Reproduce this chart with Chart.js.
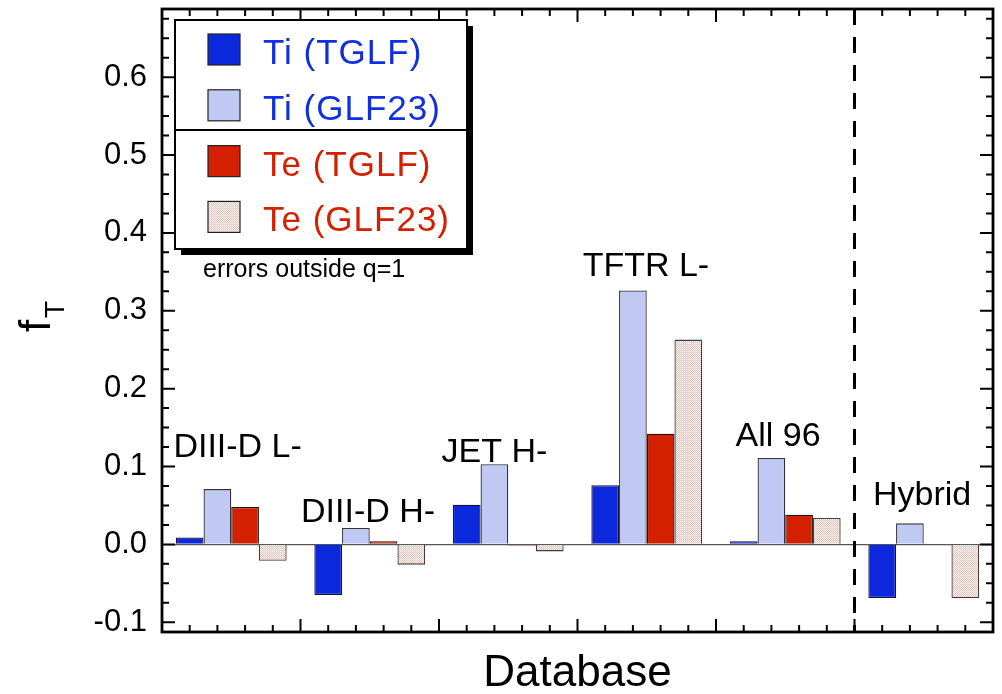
<!DOCTYPE html>
<html>
<head>
<meta charset="utf-8">
<script src="https://cdn.jsdelivr.net/npm/chart.js@4.4.0/dist/chart.umd.min.js"></script>
<style>
  html, body { margin: 0; padding: 0; background: #fff; }
</style>
</head>
<body>
<canvas id="chart" width="1002" height="694" style="width:1002px;height:694px;display:block"></canvas>
<script>
// f_T per database, one array per channel / model
const databases = ['DIII-D L-', 'DIII-D H-', 'JET H-', 'TFTR L-', 'All 96', 'Hybrid'];
const tiTglf  = [0.009, -0.065, 0.051, 0.076, 0.004, -0.069];
const tiGlf23 = [0.071, 0.021, 0.103, 0.326, 0.111, 0.027];
const teTglf  = [0.048, 0.004, -0.0015, 0.142, 0.038, null];
const teGlf23 = [-0.021, -0.026, -0.009, 0.263, 0.034, -0.069];

const yTicks = [-0.1, 0.0, 0.1, 0.2, 0.3, 0.4, 0.5, 0.6];

// database names are written above each group: position in bar widths, height in f_T
const nameAt = [2.73, 7.44, 12.0, 17.47, 22.24, 27.44];
const nameHeight = [0.112, 0.029, 0.106, 0.345, 0.126, 0.051];

const BLUE = '#0c28dc', LIGHT_BLUE = '#c0c8f4', RED = '#d22000';

function stipple() {
  const c = document.createElement('canvas');
  c.width = 2; c.height = 2;
  const g = c.getContext('2d');
  g.fillStyle = '#ffffff';
  g.fillRect(0, 0, 2, 2);
  g.fillStyle = '#f0bcb4';
  g.fillRect(0, 0, 1, 1);
  g.fillRect(1, 1, 1, 1);
  return g.createPattern(c, 'repeat');
}
const pink = stipple();

const FONT = '"Liberation Sans", Arial, Helvetica, sans-serif';

// frame, inward ticks, separator, names, legend and axis titles
const decorations = {
  id: 'decorations',
  afterDatasetsDraw(chart) {
    const g = chart.ctx;
    const a = chart.chartArea;
    const ys = chart.scales.y;
    const unit = (a.right - a.left) / 30;
    const ux = u => a.left + u * unit;

    g.save();
    g.strokeStyle = '#000';

    // dashed separator before the hybrid group
    g.lineWidth = 3;
    g.setLineDash([16, 12]);
    g.beginPath();
    g.moveTo(ux(25), a.top);
    g.lineTo(ux(25), a.bottom);
    g.stroke();
    g.setLineDash([]);

    // ticks
    g.lineWidth = 2;
    g.beginPath();
    for (let k = 1; k < 30; k++) {
      const len = k % 5 === 0 ? 13 : 7;
      const x = ux(k);
      g.moveTo(x, a.bottom); g.lineTo(x, a.bottom - len);
      g.moveTo(x, a.top); g.lineTo(x, a.top + len);
    }
    for (let k = -4; k <= 27; k++) {
      const len = k % 4 === 0 ? 13 : 7;
      const y = ys.getPixelForValue(k * 0.025);
      g.moveTo(a.left, y); g.lineTo(a.left + len, y);
      g.moveTo(a.right, y); g.lineTo(a.right - len, y);
    }
    g.stroke();

    // frame
    g.lineWidth = 2.8;
    g.strokeRect(a.left, a.top, a.right - a.left, a.bottom - a.top);

    // database names
    g.fillStyle = '#000';
    g.font = '34px ' + FONT;
    g.textAlign = 'center';
    g.textBaseline = 'alphabetic';
    databases.forEach((name, i) => {
      g.fillText(name, ux(nameAt[i]), ys.getPixelForValue(nameHeight[i]));
    });

    // legend box with drop shadow
    const bx = a.left + 13, by = a.top + 11, bw = 292, bh = 229;
    g.fillStyle = '#000';
    g.fillRect(bx + 6, by + 6, bw, bh);
    g.fillStyle = '#fff';
    g.fillRect(bx, by, bw, bh);
    g.lineWidth = 2;
    g.strokeRect(bx, by, bw, bh);
    g.beginPath();
    g.moveTo(bx, by + 110);
    g.lineTo(bx + bw, by + 110);
    g.stroke();

    g.textAlign = 'left';
    g.font = '35px ' + FONT;
    g.letterSpacing = '1px';
    chart.data.datasets.forEach((ds, i) => {
      const sy = by + 14 + i * 55.8;
      g.fillStyle = ds.backgroundColor;
      g.fillRect(bx + 33, sy, 32, 31);
      g.strokeStyle = '#222';
      g.lineWidth = 1.2;
      g.strokeRect(bx + 33, sy, 32, 31);
      g.fillStyle = ds.textColor;
      g.fillText(ds.label, bx + 88, sy + 30);
    });
    g.letterSpacing = '0px';

    // note under the legend
    g.fillStyle = '#000';
    g.font = '25px ' + FONT;
    g.fillText('errors outside q=1', a.left + 41, a.top + 268);

    // x axis title
    g.textAlign = 'center';
    g.font = '44px ' + FONT;
    g.fillText('Database', (a.left + a.right) / 2, a.bottom + 54);

    // y axis title f_T, rotated
    g.translate(50, 332);
    g.rotate(-Math.PI / 2);
    g.textAlign = 'left';
    g.font = '44px ' + FONT;
    g.fillText('f', 0, 0);
    g.font = '28px ' + FONT;
    g.fillText('T', 14, 14);
    g.restore();
  }
};

new Chart(document.getElementById('chart'), {
  type: 'bar',
  data: {
    labels: databases,
    datasets: [
      { label: 'Ti (TGLF)', data: tiTglf, backgroundColor: BLUE, borderColor: '#111133', textColor: '#1030e0' },
      { label: 'Ti (GLF23)', data: tiGlf23, backgroundColor: LIGHT_BLUE, borderColor: '#333', textColor: '#1030e0' },
      { label: 'Te (TGLF)', data: teTglf, backgroundColor: RED, borderColor: '#221111', textColor: '#d42000' },
      { label: 'Te (GLF23)', data: teGlf23, backgroundColor: pink, borderColor: '#4a3a38', textColor: '#d42000' }
    ]
  },
  options: {
    responsive: false,
    animation: false,
    devicePixelRatio: 1,
    layout: { padding: { top: 9, right: 9, left: 0, bottom: 0 } },
    datasets: { bar: { categoryPercentage: 0.8, barPercentage: 1.0, borderWidth: 1.3 } },
    plugins: { legend: { display: false }, tooltip: { enabled: false } },
    scales: {
      x: {
        offset: true,
        grid: { display: false },
        border: { display: false },
        ticks: { display: false },
        afterFit: s => { s.height = 62; s.paddingLeft = 0; s.paddingRight = 0; }
      },
      y: {
        min: -0.1125,
        max: 0.6875,
        afterBuildTicks: s => { s.ticks = yTicks.map(v => ({ value: v })); },
        border: { display: false },
        grid: {
          drawTicks: false,
          lineWidth: 1.3,
          color: c => (c.tick && Math.abs(c.tick.value) < 1e-9 ? '#555' : 'rgba(0,0,0,0)')
        },
        ticks: {
          padding: 15,
          color: '#000',
          font: { family: FONT, size: 31 },
          callback: v => v.toFixed(1)
        },
        afterFit: s => { s.width = 162; s.paddingTop = 0; s.paddingBottom = 0; }
      }
    }
  },
  plugins: [decorations]
});
</script>
</body>
</html>
